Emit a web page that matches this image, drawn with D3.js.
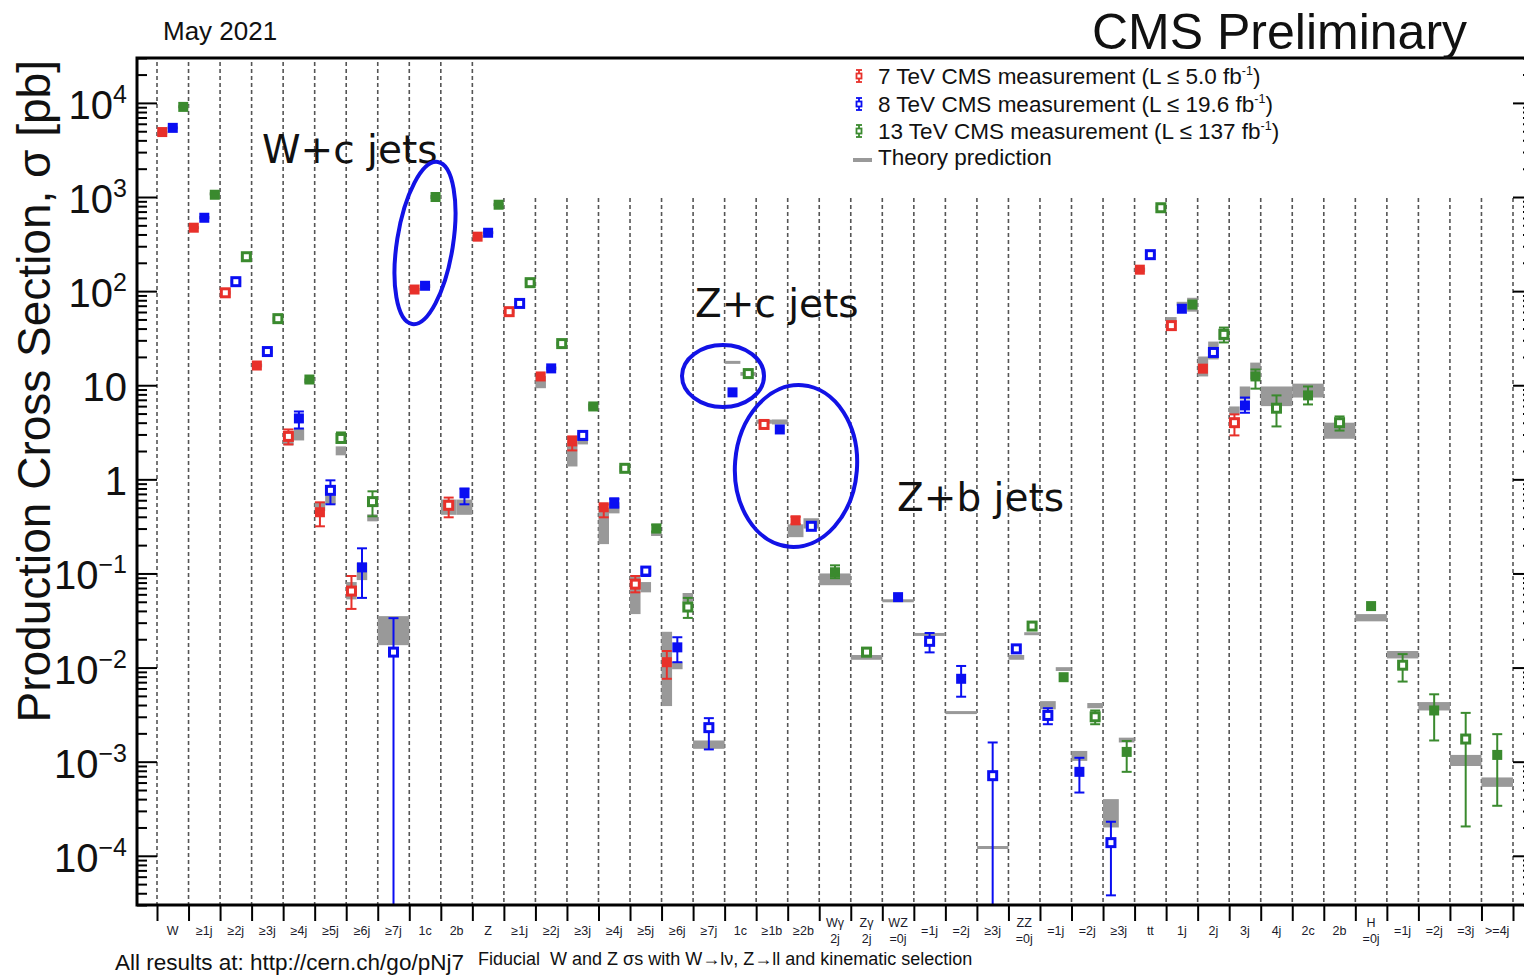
<!DOCTYPE html>
<html>
<head>
<meta charset="utf-8">
<script src="https://cdn.jsdelivr.net/npm/d3@7"></script>
<style>
  html, body { margin: 0; padding: 0; background: #fff; }
  svg { display: block; font-family: "Liberation Sans", Arial, sans-serif; }
</style>
</head>
<body>
<svg id="chart" width="1524" height="976"></svg>
<script>
// ---- categories (a "|" splits a two-line label) ----
const categories = ["W","≥1j","≥2j","≥3j","≥4j","≥5j","≥6j","≥7j","1c","2b",
  "Z","≥1j","≥2j","≥3j","≥4j","≥5j","≥6j","≥7j","1c","≥1b","≥2b",
  "Wγ|2j","Zγ|2j","WZ|=0j","=1j","=2j","≥3j","ZZ|=0j","=1j","=2j","≥3j",
  "tt","1j","2j","3j","4j","2c","2b","H|=0j","=1j","=2j","=3j",">=4j"];

// ---- measurements: [category index, sigma (pb), lower edge, upper edge] ----
const meas7 = [
  [0,4900,null,null],[1,472,null,null],[2,96,null,null],[3,16.2,null,null],
  [4,2.86,2.35,3.39],[5,0.447,0.317,0.57],[6,0.065,0.042,0.094],
  [8,104,null,null],[9,0.53,0.395,0.64],
  [10,379,null,null],[11,60.5,null,null],[12,12.4,null,null],[13,2.53,2.03,2.86],
  [14,0.505,0.395,0.54],[15,0.077,0.063,0.094],[16,0.0114,0.0076,0.015],
  [19,3.83,null,null],[20,0.367,0.335,0.40],
  [31,169,null,null],[32,43,null,null],[33,15,null,null],[34,4.0,2.93,4.9]
];
const meas8 = [
  [0,5430,null,null],[1,602,null,null],[2,126,null,null],[3,22.8,null,null],
  [4,4.44,3.47,5.26],[5,0.764,0.543,0.976],[6,0.116,0.055,0.185],[7,0.0146,1e-7,0.0335],
  [8,114,null,null],[9,0.71,0.543,0.80],
  [10,417,null,null],[11,74,null,null],[12,15.1,null,null],[13,2.93,null,null],
  [14,0.57,0.50,0.62],[15,0.106,0.094,0.115],[16,0.0164,0.0114,0.021],[17,0.0023,0.00135,0.0029],
  [18,8.4,null,null],[19,3.39,null,null],[20,0.317,null,null],
  [23,0.056,null,null],[24,0.019,0.0145,0.0233],[25,0.0076,0.0049,0.0104],[26,7.1e-4,1e-7,0.0016],
  [27,0.0158,null,null],[28,0.0031,0.0025,0.0037],[29,7.8e-4,4.7e-4,0.0011],[30,1.38e-4,3.8e-5,2.3e-4],
  [31,244,null,null],[32,65,null,null],[33,22.3,null,null],[34,6.1,5.1,7.4]
];
const meas13 = [
  [0,9070,null,null],[1,1057,null,null],[2,232,null,null],[3,51,null,null],
  [4,11.5,null,null],[5,2.72,2.47,3.15],[6,0.58,0.405,0.746],
  [8,1000,null,null],
  [10,828,null,null],[11,123,null,null],[12,27.7,null,null],[13,5.95,null,null],
  [14,1.31,null,null],[15,0.30,0.28,0.33],[16,0.044,0.0337,0.055],
  [18,13.3,null,null],
  [21,0.103,0.089,0.122],[22,0.0146,0.0132,0.016],
  [27,0.0276,null,null],[28,0.0079,null,null],[29,0.0030,0.0025,0.0035],[30,0.00127,7.8e-4,0.00166],
  [31,769,null,null],[32,72,null,null],[33,34.7,28.5,41],[34,12.4,9.2,14.7],
  [35,5.7,3.65,7.8],[36,7.8,6.25,9.7],[37,4.0,3.3,4.66],
  [38,0.045,null,null],[39,0.0106,0.0071,0.0139],[40,0.0035,0.00168,0.0052],
  [41,0.00174,2.05e-4,0.0033],[42,0.00118,3.4e-4,0.00196]
];

// categories whose measurement uses the hollow marker
const hollow7 = [2,4,6,9,11,15,19,32,34];
const hollow8 = [2,3,5,7,11,13,15,17,20,24,26,27,28,30,31,33];
const hollow13 = [2,3,5,6,11,12,14,16,18,22,27,29,31,33,35,37,39,41];

// ---- theory predictions: [category index, low, high] ----
const theory7 = [
  [0,4750,5050],[1,455,490],[2,92,100],[3,15.5,17],[4,2.3,3.2],[5,0.46,0.57],[6,0.053,0.081],
  [8,100,108],[9,0.42,0.61],[10,370,390],[11,58,63],[12,9.3,12.5],[13,1.37,2.53],[14,0.205,0.5],
  [15,0.037,0.096],[16,0.0039,0.024],[19,3.9,4.3],[20,0.243,0.333],
  [31,160,178],[32,47,53],[33,12.4,20.2],[34,4.9,5.95]
];
const theory8 = [
  [0,5250,5600],[1,585,625],[2,120,132],[3,21.5,24],[4,2.59,3.47],[5,0.543,0.676],[6,0.085,0.13],
  [7,0.0173,0.0352],[8,108,118],[9,0.42,0.61],[10,405,430],[11,70,78],[12,14.5,15.8],[13,2.35,3.15],
  [14,0.435,0.57],[15,0.063,0.081],[16,0.0096,0.0114],[17,0.00137,0.00168],[18,17.2,17.8],
  [19,3.83,4.33],[20,0.30,0.386],[23,0.050,0.0525],[24,0.0219,0.0231],[25,0.00323,0.00342],
  [26,1.19e-4,1.26e-4],[27,0.0121,0.0136],[28,0.0036,0.0044],[29,0.00102,0.0013],[30,2.0e-4,4.0e-4],
  [31,235,255],[32,70,77],[33,18.8,29.1],[34,7.07,9.7]
];
const theory13 = [
  [0,8800,9400],[1,1040,1120],[2,225,250],[3,47,53],[4,10.5,11.8],[5,1.8,2.24],[6,0.358,0.425],
  [8,950,1050],[10,800,860],[11,118,135],[12,26,29],[13,5.5,6.4],[14,1.2,1.4],[15,0.25,0.28],
  [16,0.05,0.062],[18,12.6,13.8],[21,0.075,0.10],[22,0.0121,0.0136],[27,0.0224,0.0234],
  [28,0.0092,0.0101],[29,0.0037,0.0042],[30,0.0016,0.0018],[31,740,800],[32,60.5,85],[33,30,40],
  [34,11.5,17.4],[35,6.0,9.7],[36,7.4,10.4],[37,2.7,4.0],[38,0.031,0.037],[39,0.0125,0.015],
  [40,0.0035,0.0043],[41,0.0009,0.00118],[42,5.4e-4,6.8e-4]
];

const yMajor = [1e-4,1e-3,1e-2,1e-1,1,10,1e2,1e3,1e4];

const legendRows = [
  {energy:"7", text:"7 TeV CMS measurement (L ≤ 5.0 fb"},
  {energy:"8", text:"8 TeV CMS measurement (L ≤ 19.6 fb"},
  {energy:"13", text:"13 TeV CMS measurement (L ≤ 137 fb"}
];

// ---- drawing ----
const colors = {"7":"#e8302a", "8":"#0a0ef2", "13":"#3a8a2e"};
const theoryColor = "#999999";
const svg = d3.select("#chart");
const frame = {left:137, top:58, bottom:905, right:1533};

const x = d3.scaleLinear().domain([0, categories.length]).range([157, 1513]);
const xBand = d3.scaleBand().domain(d3.range(categories.length)).range([157, 1513]).padding(0);
const y = d3.scaleLog().domain([3e-5, 3e4]).range([frame.bottom, frame.top]);

svg.append("defs").append("clipPath").attr("id","plotclip")
  .append("rect").attr("x", frame.left).attr("y", frame.top)
  .attr("width", frame.right - frame.left).attr("height", frame.bottom - frame.top);

// vertical dashed separators between categories
const zStart = categories.indexOf("Z");
svg.append("g").selectAll("line").data(d3.range(categories.length + 1)).join("line")
  .attr("x1", d => x(d)).attr("x2", d => x(d))
  .attr("y1", d => d <= zStart ? frame.top + 4 : y(1e3) + 1)
  .attr("y2", frame.bottom)
  .attr("stroke", "#555").attr("stroke-width", 1.6).attr("stroke-dasharray", "4,3");

// measurement slots per category
const series = [
  {e:"7", m:meas7, t:theory7, hollow:hollow7},
  {e:"8", m:meas8, t:theory8, hollow:hollow8},
  {e:"13", m:meas13, t:theory13, hollow:hollow13}
];
function slot(cat, energy) {
  const present = series.filter(s => s.m.some(r => r[0] === cat)).map(s => s.e);
  const n = Math.max(present.length, 1);
  let k = present.indexOf(energy);
  if (k < 0) k = 0;
  const x0 = xBand(cat), w = xBand.bandwidth();
  return {x0: x0 + w * k / n, x1: x0 + w * (k + 1) / n, cx: x0 + w * (k + 0.5) / n};
}

const plotG = svg.append("g").attr("clip-path", "url(#plotclip)");

// theory boxes
series.forEach(s => {
  plotG.append("g").selectAll("rect").data(s.t).join("rect")
    .attr("x", d => slot(d[0], s.e).x0)
    .attr("width", d => slot(d[0], s.e).x1 - slot(d[0], s.e).x0)
    .attr("y", d => { const h = y(d[1]) - y(d[2]); return h < 3 ? (y(d[1]) + y(d[2])) / 2 - 1.5 : y(d[2]); })
    .attr("height", d => Math.max(3, y(d[1]) - y(d[2])))
    .attr("fill", theoryColor);
});

// error bars and markers
series.forEach(s => {
  const g = plotG.append("g");
  const withErr = s.m.filter(d => d[2] !== null);
  g.selectAll("line.bar").data(withErr).join("line").attr("class","bar")
    .attr("x1", d => slot(d[0], s.e).cx).attr("x2", d => slot(d[0], s.e).cx)
    .attr("y1", d => y(d[2])).attr("y2", d => y(d[3]))
    .attr("stroke", colors[s.e]).attr("stroke-width", 2);
  ["lo","hi"].forEach((which, j) => {
    g.selectAll("line.cap" + which).data(withErr).join("line").attr("class","cap" + which)
      .attr("x1", d => slot(d[0], s.e).cx - 5).attr("x2", d => slot(d[0], s.e).cx + 5)
      .attr("y1", d => y(d[2 + j])).attr("y2", d => y(d[2 + j]))
      .attr("stroke", colors[s.e]).attr("stroke-width", 2);
  });
  g.selectAll("rect").data(s.m).join("rect")
    .attr("x", d => slot(d[0], s.e).cx - 5)
    .attr("y", d => y(d[1]) - 5)
    .attr("width", 10).attr("height", 10)
    .attr("fill", d => s.hollow.includes(d[0]) ? "#fff" : colors[s.e])
    .attr("stroke", colors[s.e])
    .attr("stroke-width", d => s.hollow.includes(d[0]) ? 3 : 0);
  g.selectAll("rect").filter(d => s.hollow.includes(d[0]))
    .attr("x", d => slot(d[0], s.e).cx - 4).attr("y", d => y(d[1]) - 4)
    .attr("width", 8).attr("height", 8);
});

// frame
const frameG = svg.append("g").attr("stroke", "#000").attr("stroke-width", 3).attr("fill", "none");
frameG.append("path").attr("d",
  `M${frame.right},${frame.top}H${frame.left}V${frame.bottom}H${frame.right}`);

// y axes: major and minor ticks drawn inwards on both sides
const yMinor = [];
for (let e = -5; e <= 4; e++) for (let m = 2; m <= 9; m++) {
  const v = m * Math.pow(10, e);
  if (v >= 3e-5 && v <= 3e4) yMinor.push(v);
}
function yAxisPair(gen, tx) {
  const maj = svg.append("g").attr("transform", `translate(${tx},0)`)
    .call(gen(y).tickValues(yMajor).tickSize(-20).tickSizeOuter(0).tickFormat(""));
  const min = svg.append("g").attr("transform", `translate(${tx},0)`)
    .call(gen(y).tickValues(yMinor).tickSize(-10).tickSizeOuter(0).tickFormat(""));
  [maj, min].forEach(a => {
    a.select(".domain").remove();
    a.selectAll("line").attr("stroke", "#000").attr("stroke-width", 2);
  });
}
yAxisPair(d3.axisLeft, frame.left);
yAxisPair(d3.axisRight, frame.right);

// y tick labels as powers of ten
const yLab = svg.append("g").attr("font-size", 40).attr("fill", "#111").attr("text-anchor", "end");
yMajor.forEach(v => {
  const p = Math.round(Math.log10(v));
  const t = yLab.append("text").attr("x", 127).attr("y", y(v) + 16);
  if (p === 0) t.text("1");
  else if (p === 1) t.text("10");
  else {
    t.append("tspan").text("10");
    t.append("tspan").attr("font-size", 25).attr("dy", -16).text(p < 0 ? "\u2212" + (-p) : String(p));
  }
});

// x axis: ticks on category boundaries, labels centred in each category
const xTicks = svg.append("g").attr("transform", `translate(0,${frame.bottom})`)
  .call(d3.axisBottom(x).tickValues(d3.range(categories.length + 1)).tickSize(16).tickSizeOuter(0).tickFormat(""));
xTicks.select(".domain").remove();
xTicks.selectAll("line").attr("stroke", "#000").attr("stroke-width", 2);

const xLab = svg.append("g").attr("transform", `translate(0,${frame.bottom})`)
  .call(d3.axisBottom(xBand).tickSize(0).tickFormat(""));
xLab.select(".domain").remove();
xLab.selectAll(".tick").each(function(i) {
  const parts = categories[i].split("|");
  const t = d3.select(this).append("text")
    .attr("fill", "#1a1a2a").attr("font-size", 12.5).attr("text-anchor", "middle")
    .attr("font-family", "Liberation Sans, Arial, sans-serif");
  if (parts.length === 1) {
    t.attr("y", 30).text(parts[0]);
  } else {
    t.append("tspan").attr("x", 0).attr("y", 22).text(parts[0]);
    t.append("tspan").attr("x", 0).attr("y", 38).text(parts[1]);
  }
});

// axis title
svg.append("text")
  .attr("transform", "translate(50,60) rotate(-90)")
  .attr("text-anchor", "end").attr("font-size", 46).attr("fill", "#111")
  .text("Production Cross Section, σ [pb]");

// header texts
svg.append("text").attr("x", 163).attr("y", 40).attr("font-size", 26).attr("fill", "#111").text("May 2021");
svg.append("text").attr("x", 1092).attr("y", 49).attr("font-size", 50).attr("fill", "#111").text("CMS Preliminary");

// footer texts
svg.append("text").attr("x", 115).attr("y", 970).attr("font-size", 22.5).attr("fill", "#111")
  .text("All results at: http://cern.ch/go/pNj7");
svg.append("text").attr("x", 478).attr("y", 965).attr("font-size", 18).attr("fill", "#111")
  .attr("xml:space", "preserve").style("white-space", "pre")
  .text("Fiducial  W and Z σs with W→lν, Z→ll and kinematic selection");

// legend
const leg = svg.append("g");
const rowY = [76, 104, 131];
legendRows.forEach((r, i) => {
  const cy = rowY[i], c = colors[r.energy];
  leg.append("line").attr("x1", 859).attr("x2", 859).attr("y1", cy - 6).attr("y2", cy + 6)
    .attr("stroke", c).attr("stroke-width", 1.8);
  [cy - 6, cy + 6].forEach(yy => leg.append("line").attr("x1", 856).attr("x2", 862)
    .attr("y1", yy).attr("y2", yy).attr("stroke", c).attr("stroke-width", 1.8));
  leg.append("rect").attr("x", 856.5).attr("y", cy - 2.5).attr("width", 5).attr("height", 5)
    .attr("fill", "#fff").attr("stroke", c).attr("stroke-width", 1.8);
  const t = leg.append("text").attr("x", 878).attr("y", cy + 7.5).attr("font-size", 22.5).attr("fill", "#111");
  t.append("tspan").text(r.text);
  t.append("tspan").attr("font-size", 12.5).attr("dy", -9).text("-1");
  t.append("tspan").attr("dy", 9).text(")");
});
leg.append("line").attr("x1", 853).attr("x2", 872).attr("y1", 160).attr("y2", 160)
  .attr("stroke", theoryColor).attr("stroke-width", 4);
leg.append("text").attr("x", 878).attr("y", 165).attr("font-size", 22.5).attr("fill", "#111").text("Theory prediction");

// highlighted heavy-flavour results
const ann = svg.append("g").attr("font-family", "DejaVu Sans, sans-serif").attr("font-size", 39).attr("fill", "#111");
ann.append("text").attr("x", 262).attr("y", 163).text("W+c jets");
ann.append("text").attr("x", 695).attr("y", 317).text("Z+c jets");
ann.append("text").attr("x", 897).attr("y", 511).text("Z+b jets");

const rings = svg.append("g").attr("fill", "none").attr("stroke", "#1212e6").attr("stroke-width", 4);
rings.append("ellipse").attr("transform", "translate(425,243) rotate(9)").attr("rx", 28).attr("ry", 82);
rings.append("ellipse").attr("transform", "translate(723,376)").attr("rx", 41).attr("ry", 31);
rings.append("ellipse").attr("transform", "translate(796,466) rotate(4.5)").attr("rx", 61).attr("ry", 81);
</script>
</body>
</html>
